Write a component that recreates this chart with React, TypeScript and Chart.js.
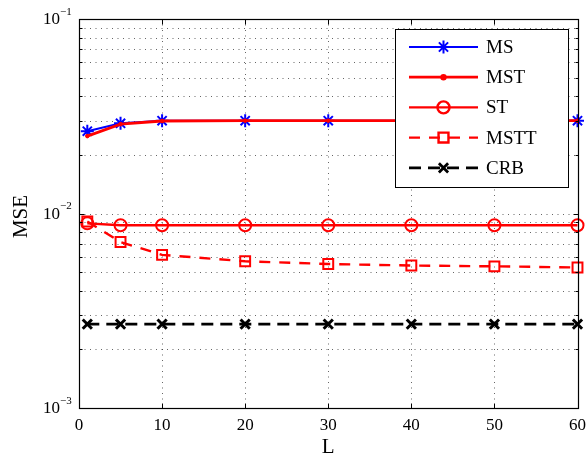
import React, { useEffect, useRef } from 'react';
import { Chart, registerables } from 'chart.js';
import { drawPoint } from 'chart.js/helpers';

Chart.register(...registerables);

// ---- data ----
const L = [1, 5, 10, 20, 30, 40, 50, 60];
const MS = [0.0265, 0.0291, 0.0300, 0.0300, 0.0300, 0.0300, 0.0300, 0.0300];
const MST = [0.0250, 0.0288, 0.0299, 0.0300, 0.0300, 0.0300, 0.0300, 0.0300];
const ST = [0.0089, 0.0087, 0.0087, 0.0087, 0.0087, 0.0087, 0.0087, 0.0087];
const MSTT = [0.0091, 0.00713, 0.00613, 0.00568, 0.0055, 0.0054, 0.00535, 0.00528];
const CRB = [0.0027, 0.0027, 0.0027, 0.0027, 0.0027, 0.0027, 0.0027, 0.0027];
const seriesNames = ['MS', 'MST', 'ST', 'MSTT', 'CRB'];
const xTicks = [0, 10, 20, 30, 40, 50, 60];
const yTicks = [0.001, 0.01, 0.1];
const yTickExp = ['\u22123', '\u22122', '\u22121'];
const xTitle = 'L';
const yTitle = 'MSE';

const FONT = '"Liberation Serif", "Times New Roman", serif';

const toPts = (ys: number[]) => L.map((x, i) => ({ x, y: ys[i] }));

const framePlugin = {
  id: 'matlabFrame',
  beforeDatasetsDraw(chart: any) {
    const { ctx, chartArea: a, scales } = chart;
    const x = scales.x, y = scales.y;
    ctx.save();
    ctx.strokeStyle = 'rgba(0,0,0,0.6)';
    ctx.lineWidth = 1;
    ctx.setLineDash([1, 4.5]);
    for (const v of xTicks) {
      if (v <= x.min || v >= x.max) continue;
      const px = Math.round(x.getPixelForValue(v)) + 0.5;
      ctx.beginPath();
      ctx.moveTo(px, a.top);
      ctx.lineTo(px, a.bottom);
      ctx.stroke();
    }
    for (let e = -3; e < -1; e++) {
      for (let m = 1; m < 10; m++) {
        const v = m * Math.pow(10, e);
        if (v <= y.min * 1.0001 || v >= y.max * 0.9999) continue;
        const py = Math.round(y.getPixelForValue(v)) + 0.5;
        ctx.beginPath();
        ctx.moveTo(a.left, py);
        ctx.lineTo(a.right, py);
        ctx.stroke();
      }
    }
    ctx.restore();
  },
  afterDraw(chart: any) {
    const { ctx, chartArea: a, scales } = chart;
    const x = scales.x, y = scales.y;
    ctx.save();
    ctx.setLineDash([]);
    ctx.strokeStyle = '#000';
    ctx.lineWidth = 1;
    // ticks
    const tl = Math.round(a.left) + 0.5, tr = Math.round(a.right) + 0.5;
    const tt = Math.round(a.top) + 0.5, tb = Math.round(a.bottom) + 0.5;
    for (const v of xTicks) {
      const px = Math.round(x.getPixelForValue(v)) + 0.5;
      ctx.beginPath();
      ctx.moveTo(px, tb); ctx.lineTo(px, tb - 5);
      ctx.moveTo(px, tt); ctx.lineTo(px, tt + 5);
      ctx.stroke();
    }
    for (let e = -3; e <= -1; e++) {
      for (let m = 1; m < 10; m++) {
        const v = m * Math.pow(10, e);
        if (v < y.min * 0.9999 || v > y.max * 1.0001) continue;
        const py = Math.round(y.getPixelForValue(v)) + 0.5;
        const len = m === 1 ? 5 : 3;
        ctx.beginPath();
        ctx.moveTo(tl, py); ctx.lineTo(tl + len, py);
        ctx.moveTo(tr, py); ctx.lineTo(tr - len, py);
        ctx.stroke();
      }
    }
    // box
    ctx.lineWidth = 1.2;
    ctx.strokeRect(tl, tt, tr - tl, tb - tt);

    // tick labels
    ctx.fillStyle = '#000';
    ctx.font = `17px ${FONT}`;
    ctx.textAlign = 'center';
    ctx.textBaseline = 'middle';
    for (const v of xTicks) {
      ctx.fillText(String(v), x.getPixelForValue(v), a.bottom + 18);
    }
    yTicks.forEach((v, i) => {
      const py = y.getPixelForValue(v);
      ctx.font = `17px ${FONT}`;
      ctx.textAlign = 'right';
      ctx.textBaseline = 'middle';
      ctx.fillText('10', a.left - 19, py + 1);
      ctx.font = `11px ${FONT}`;
      ctx.textAlign = 'left';
      ctx.fillText(yTickExp[i], a.left - 19, py - 7);
    });
    // axis titles
    ctx.font = `21px ${FONT}`;
    ctx.textAlign = 'center';
    ctx.textBaseline = 'middle';
    ctx.fillText(xTitle, (a.left + a.right) / 2, a.bottom + 39);
    ctx.save();
    ctx.translate(21, (a.top + a.bottom) / 2 + 3);
    ctx.rotate(-Math.PI / 2);
    ctx.fillText(yTitle, 0, 0);
    ctx.restore();

    // legend
    const bx = 395.5, by = 29.5, bw = 173, bh = 158;
    ctx.fillStyle = '#fff';
    ctx.fillRect(bx, by, bw, bh);
    ctx.lineWidth = 1;
    ctx.strokeStyle = '#000';
    ctx.strokeRect(bx, by, bw, bh);
    chart.data.datasets.forEach((ds: any, i: number) => {
      const yy = 47 + i * 30.2;
      const x0 = 409, x1 = 478;
      ctx.save();
      ctx.strokeStyle = ds.borderColor;
      ctx.lineWidth = ds.borderWidth;
      ctx.setLineDash(ds.borderDash || []);
      ctx.beginPath();
      ctx.moveTo(x0, yy);
      ctx.lineTo(x1, yy);
      ctx.stroke();
      ctx.setLineDash([]);
      ctx.strokeStyle = ds.pointBorderColor;
      ctx.fillStyle = ds.pointBackgroundColor;
      drawPoint(ctx, {
        pointStyle: ds.pointStyle,
        rotation: 0,
        radius: ds.pointRadius,
        borderWidth: ds.pointBorderWidth,
      } as any, (x0 + x1) / 2, yy);
      ctx.restore();
      ctx.fillStyle = '#000';
      ctx.font = `19px ${FONT}`;
      ctx.textAlign = 'left';
      ctx.textBaseline = 'middle';
      ctx.fillText(ds.label, 486, yy + 1);
    });
    ctx.restore();
  },
};

export default function App() {
  const ref = useRef<HTMLCanvasElement>(null);
  useEffect(() => {
    if (!ref.current) return;
    const mk = (label: string, data: number[], color: string, width: number, dash: number[], style: string, radius: number, pbw: number, fill: string, order: number) => ({
      label,
      data: toPts(data),
      borderColor: color,
      borderWidth: width,
      borderDash: dash,
      pointStyle: style,
      pointRadius: radius,
      pointHoverRadius: radius,
      pointBorderColor: color,
      pointBackgroundColor: fill,
      pointBorderWidth: pbw,
      fill: false,
      tension: 0,
      clip: false as any,
      order,
    });
    const chart = new Chart(ref.current, {
      type: 'line',
      data: {
        datasets: [
          mk(seriesNames[0], MS, '#0000ff', 2, [], 'star', 6.5, 2, 'transparent', 5),
          mk(seriesNames[1], MST, '#ff0000', 2.8, [], 'circle', 1.8, 1, '#ff0000', 4),
          mk(seriesNames[2], ST, '#ff0000', 2.4, [], 'circle', 6, 2, 'transparent', 3),
          mk(seriesNames[3], MSTT, '#ff0000', 2.4, [11, 9], 'rect', 7, 2, 'transparent', 2),
          mk(seriesNames[4], CRB, '#000000', 2.8, [12, 7], 'crossRot', 6.5, 3, 'transparent', 1),
        ] as any,
      },
      options: {
        animation: false,
        responsive: false,
        maintainAspectRatio: false,
        events: [],
        layout: { padding: { top: 19, right: 9, left: 0, bottom: 0 } },
        plugins: { legend: { display: false }, tooltip: { enabled: false } },
        scales: {
          x: {
            type: 'linear',
            min: 0,
            max: 60,
            ticks: { display: false },
            grid: { display: false },
            border: { display: false },
            afterFit: (s: any) => { s.height = 48; },
          },
          y: {
            type: 'logarithmic',
            min: 0.001,
            max: 0.1,
            ticks: { display: false },
            grid: { display: false },
            border: { display: false },
            afterFit: (s: any) => { s.width = 79; },
          },
        },
      } as any,
      plugins: [framePlugin],
    });
    return () => chart.destroy();
  }, []);
  return (
    <div style={{ position: 'absolute', left: 0, top: 0, width: 587, height: 456, background: '#fff' }}>
      <canvas ref={ref} width={587} height={456} style={{ width: 587, height: 456, display: 'block' }} />
    </div>
  );
}
